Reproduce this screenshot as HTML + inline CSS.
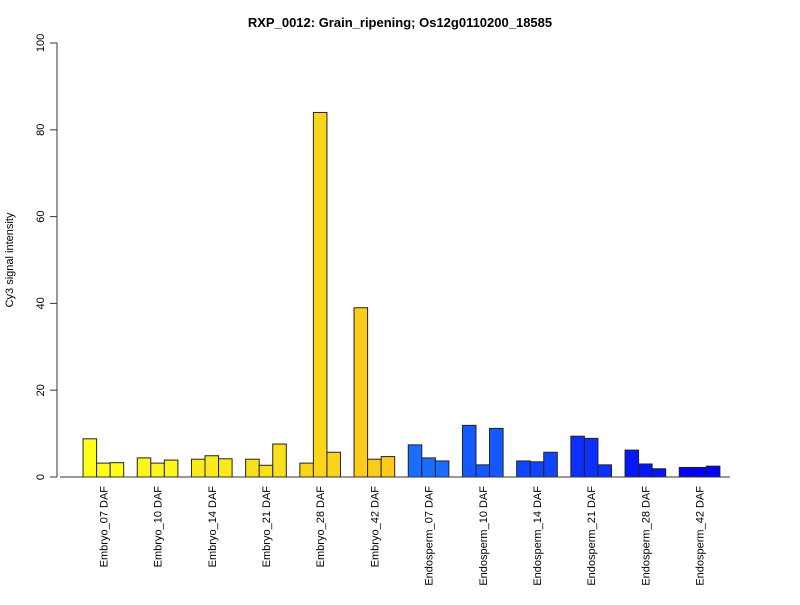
<!DOCTYPE html>
<html><head><meta charset="utf-8"><style>body{margin:0;background:#fff}svg{font-family:"Liberation Sans",Arial,sans-serif}</style></head>
<body>
<svg id="chart" width="800" height="600">
<text x="400" y="27" text-anchor="middle" font-weight="bold" font-size="13">RXP_0012: Grain_ripening; Os12g0110200_18585</text>
<text transform="translate(13,260) rotate(-90)" text-anchor="middle" font-size="11">Cy3 signal intensity</text>
<g id="bars"></g><g id="axes"></g>
</svg>
<script>
const categories=["Embryo_07 DAF","Embryo_10 DAF","Embryo_14 DAF","Embryo_21 DAF","Embryo_28 DAF","Embryo_42 DAF","Endosperm_07 DAF","Endosperm_10 DAF","Endosperm_14 DAF","Endosperm_21 DAF","Endosperm_28 DAF","Endosperm_42 DAF"];
const rep1=[8.8,4.4,4.1,4.1,3.2,39,7.4,11.9,3.7,9.4,6.2,2.2];
const rep2=[3.2,3.2,4.9,2.7,84,4.1,4.4,2.8,3.5,8.9,3.0,2.2];
const rep3=[3.3,3.9,4.2,7.6,5.7,4.7,3.7,11.2,5.7,2.8,1.9,2.5];
const groupColors=["#ffff1a","#fdf41a","#fbea1a","#f9e01a","#fad61a","#fccc18","#1a6eff","#1458ff","#1044ff","#0c30ff","#0418ff","#0000ff"];
const yTicks=[0,20,40,60,80,100];
const NS="http://www.w3.org/2000/svg";
const y0=477,pxu=4.34,x0=69.5,unit=13.55;
const yS=v=>y0-v*pxu;
const bars=document.getElementById('bars'),axes=document.getElementById('axes');
const series=[rep1,rep2,rep3];
categories.forEach((c,g)=>{
  series.forEach((s,i)=>{
    const r=document.createElementNS(NS,'rect');
    const x=x0+unit*(g*4+1+i);
    r.setAttribute('x',x);r.setAttribute('y',yS(s[g]));
    r.setAttribute('width',unit);r.setAttribute('height',s[g]*pxu);
    r.setAttribute('fill',groupColors[g]);r.setAttribute('stroke','#222');r.setAttribute('stroke-width','1');
    
    
    bars.appendChild(r);
  });
  const cx=x0+unit*(g*4+2.5);
  const t=document.createElementNS(NS,'text');
  t.setAttribute('transform','translate('+(cx+4)+',486) rotate(-90)');
  t.setAttribute('text-anchor','end');t.setAttribute('font-size','11');
  t.textContent=c;
  
  
  axes.appendChild(t);
});
const bl=document.createElementNS(NS,'line');
bl.setAttribute('x1',60);bl.setAttribute('x2',730);bl.setAttribute('y1',y0);bl.setAttribute('y2',y0);bl.setAttribute('stroke','#333');


axes.appendChild(bl);
const ya=document.createElementNS(NS,'line');
ya.setAttribute('x1',57);ya.setAttribute('x2',57);ya.setAttribute('y1',yS(0));ya.setAttribute('y2',yS(100));ya.setAttribute('stroke','#333');


axes.appendChild(ya);
yTicks.forEach(v=>{
  const l=document.createElementNS(NS,'line');
  l.setAttribute('x1',50);l.setAttribute('x2',57);l.setAttribute('y1',yS(v));l.setAttribute('y2',yS(v));l.setAttribute('stroke','#333');
  
  
  axes.appendChild(l);
  const t=document.createElementNS(NS,'text');
  t.setAttribute('transform','translate(44,'+yS(v)+') rotate(-90)');
  t.setAttribute('text-anchor','middle');t.setAttribute('font-size','11');
  t.textContent=v;
  
  
  axes.appendChild(t);
});
</script>
</body></html>
